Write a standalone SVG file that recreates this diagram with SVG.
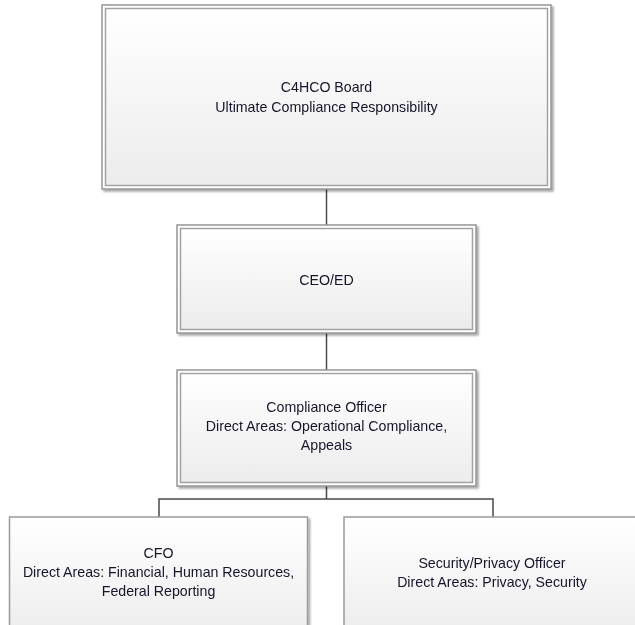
<svg xmlns="http://www.w3.org/2000/svg" width="635" height="625" viewBox="0 0 635 625">
<defs>
<linearGradient id="fill" x1="0" y1="0" x2="0" y2="1">
<stop offset="0" stop-color="#ffffff"/>
<stop offset="1" stop-color="#ececec"/>
</linearGradient>
<filter id="sh" x="-5%" y="-5%" width="110%" height="110%">
<feGaussianBlur in="SourceAlpha" stdDeviation="1.2"/>
<feOffset dx="1.5" dy="1.5" result="b"/>
<feComponentTransfer><feFuncA type="linear" slope="0.35"/></feComponentTransfer>
<feMerge><feMergeNode/><feMergeNode in="SourceGraphic"/></feMerge>
</filter>
</defs>
<style>
.outer{fill:#ffffff;stroke:#959595;stroke-width:1.5}
.inner{fill:url(#fill);stroke:#a3a3a3;stroke-width:1.5}
.single{fill:url(#fill);stroke:#9a9a9a;stroke-width:1.5}
.conn{fill:none;stroke:#4a4a4a;stroke-width:1.5}
text{font-family:"Liberation Sans",Arial,sans-serif;font-size:14.2px;fill:#15152a;text-anchor:middle}
</style>
<rect width="635" height="625" fill="#ffffff"/>
<g id="connectors">
<path class="conn" d="M326.5 189 V225"/>
<path class="conn" d="M326.5 333 V370"/>
<path class="conn" d="M326.5 486 V499 M159 517 V499 H493 V517"/>
</g>
<g id="board" filter="url(#sh)">
<rect class="outer" x="102" y="5" width="449" height="184"/>
<rect class="inner" x="105.5" y="8.5" width="442" height="177"/>
<text x="326.5" y="92">C4HCO Board</text>
<text x="326.5" y="112">Ultimate Compliance Responsibility</text>
</g>
<g id="ceo" filter="url(#sh)">
<rect class="outer" x="177" y="225" width="299" height="108"/>
<rect class="inner" x="180.5" y="228.5" width="292" height="101"/>
<text x="326.5" y="285">CEO/ED</text>
</g>
<g id="compliance" filter="url(#sh)">
<rect class="outer" x="177" y="370" width="299" height="116"/>
<rect class="inner" x="180.5" y="373.5" width="292" height="109"/>
<text x="326.5" y="412">Compliance Officer</text>
<text x="326.5" y="431">Direct Areas: Operational Compliance,</text>
<text x="326.5" y="450">Appeals</text>
</g>
<g id="cfo" filter="url(#sh)">
<rect class="single" x="9.5" y="517" width="298" height="120"/>
<text x="158.5" y="558">CFO</text>
<text x="158.5" y="577">Direct Areas: Financial, Human Resources,</text>
<text x="158.5" y="596">Federal Reporting</text>
</g>
<g id="security" filter="url(#sh)">
<rect class="single" x="344" y="517" width="298" height="120"/>
<text x="492" y="568">Security/Privacy Officer</text>
<text x="492" y="587">Direct Areas: Privacy, Security</text>
</g>
</svg>
